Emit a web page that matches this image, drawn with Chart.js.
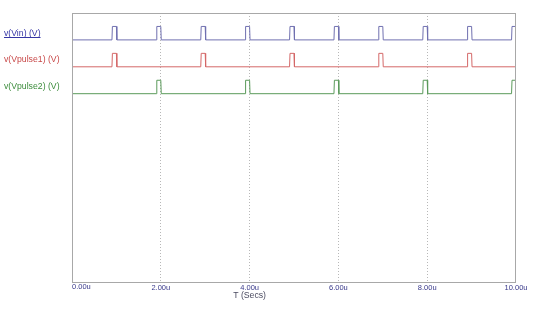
<!DOCTYPE html>
<html>
<head>
<meta charset="utf-8">
<script src="https://cdn.jsdelivr.net/npm/chart.js@4.4.0/dist/chart.umd.min.js"></script>
<style>
  body { margin: 0; background: #fff; }
</style>
</head>
<body>
<canvas id="scope" width="540" height="313"></canvas>
<script>
// traces, top to bottom
const traceNames = ['v(Vin) (V)', 'v(Vpulse1) (V)', 'v(Vpulse2) (V)'];
const lineColors = ['#7070b0', '#d46868', '#5a9a5a'];
const labelColors = ['#3535a5', '#c84848', '#3c8c3c'];

// high intervals [rise, fall] in us
const vinPulses = [[0.9, 1.0], [1.9, 2.0], [2.9, 3.0], [3.9, 4.0], [4.9, 5.0],
  [5.9, 6.0], [6.9, 7.0], [7.9, 8.0], [8.9, 9.0], [9.9, 10.0]];
const vpulse1Pulses = [[0.9, 1.0], [2.9, 3.0], [4.9, 5.0], [6.9, 7.0], [8.9, 9.0]];
const vpulse2Pulses = [[1.9, 2.0], [3.9, 4.0], [5.9, 6.0], [7.9, 8.0], [9.9, 10.0]];

const xTicks = [0, 2, 4, 6, 8, 10];
const tEnd = 10;
const edge = 0.01;

const allPulses = [vinPulses, vpulse1Pulses, vpulse2Pulses];
// each trace gets its own lane on a 0..10 axis
const laneBase = [9, 8, 7];
const laneHeight = 0.5;

function buildTrace(pulses, base) {
  const pts = [{ x: 0, y: base }];
  pulses.forEach(p => {
    pts.push({ x: p[0], y: base });
    pts.push({ x: p[0] + edge, y: base + laneHeight });
    pts.push({ x: p[1], y: base + laneHeight });
    pts.push({ x: p[1] + edge, y: base });
  });
  pts.push({ x: tEnd, y: base });
  return pts;
}

const tickFont = { family: 'Arial, "Liberation Sans"', size: 7.5 };
const labelFont = { family: 'Arial, "Liberation Sans"', size: 8.7 };
const tickColor = '#38388a';
const tickPad = 1;

const frameAndText = {
  id: 'frameAndText',
  afterDraw(chart) {
    const { ctx, chartArea: a, scales } = chart;
    ctx.save();
    // frame around plot
    ctx.strokeStyle = '#a8a8a8';
    ctx.lineWidth = 1;
    ctx.strokeRect(a.left + 0.5, a.top + 0.5, a.right - a.left - 1, a.bottom - a.top);

    // first x label sits right of its tick
    ctx.font = tickFont.size + 'px ' + tickFont.family;
    ctx.fillStyle = tickColor;
    ctx.textAlign = 'left';
    ctx.textBaseline = 'top';
    ctx.fillText(xTicks[0].toFixed(2) + 'u', a.left, scales.x.top + tickPad);

    // axis title, under the 4u tick as in the original
    ctx.font = labelFont.size + 'px ' + labelFont.family;
    ctx.fillStyle = '#4a4a60';
    ctx.textAlign = 'center';
    ctx.fillText('T (Secs)', scales.x.getPixelForValue(4), scales.x.top + 9);

    // Vin label is underlined
    const y0 = scales.y.getPixelForValue(laneBase[0] + laneHeight / 2);
    const w = ctx.measureText(traceNames[0]).width;
    ctx.strokeStyle = labelColors[0];
    ctx.beginPath();
    ctx.moveTo(4, Math.round(y0 + 4) + 0.5);
    ctx.lineTo(4 + w, Math.round(y0 + 4) + 0.5);
    ctx.stroke();
    ctx.restore();
  }
};

new Chart(document.getElementById('scope'), {
  type: 'line',
  data: {
    datasets: allPulses.map((p, i) => ({
      label: traceNames[i],
      data: buildTrace(p, laneBase[i]),
      borderColor: lineColors[i],
      borderWidth: 1,
      pointRadius: 0,
      tension: 0,
      fill: false
    }))
  },
  options: {
    responsive: false,
    animation: false,
    devicePixelRatio: 1,
    layout: { padding: { top: 13, right: 24, left: 4, bottom: 0 } },
    plugins: { legend: { display: false }, tooltip: { enabled: false } },
    scales: {
      x: {
        type: 'linear',
        min: 0,
        max: tEnd,
        afterBuildTicks: s => { s.ticks = xTicks.map(v => ({ value: v })); },
        afterFit: s => { s.height = 31; },
        border: { display: false, dash: [1, 2] },
        grid: {
          drawTicks: false,
          lineWidth: 1,
          color: c => (c.index === 0 || c.index === xTicks.length - 1) ? 'rgba(0,0,0,0)' : '#b8b8b8'
        },
        ticks: {
          autoSkip: false,
          maxRotation: 0,
          padding: tickPad,
          font: tickFont,
          color: c => c.index === 0 ? 'rgba(0,0,0,0)' : tickColor,
          callback: v => v.toFixed(2) + 'u'
        }
      },
      y: {
        type: 'linear',
        min: 0,
        max: 10,
        afterBuildTicks: s => { s.ticks = laneBase.map(b => ({ value: b + laneHeight / 2 })); },
        afterFit: s => { s.width = 68; },
        border: { display: false },
        grid: { display: false },
        ticks: {
          autoSkip: false,
          crossAlign: 'far',
          padding: 0,
          font: labelFont,
          color: c => labelColors[c.index],
          callback: (v, i) => traceNames[i]
        }
      }
    }
  },
  plugins: [frameAndText]
});
</script>
</body>
</html>
